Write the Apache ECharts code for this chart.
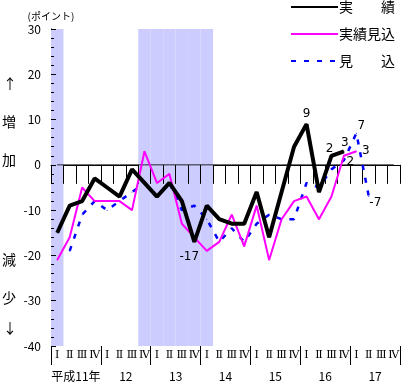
<!DOCTYPE html>
<html>
<head>
<meta charset="utf-8">
<script src="https://cdn.jsdelivr.net/npm/echarts@6/dist/echarts.min.js"></script>
<style>
html,body{margin:0;padding:0;background:#fff;}
#c{width:403px;height:383px;}
</style>
</head>
<body>
<div id="c"></div>
<script>
// ---- data ----
const years = ['平成11年', '12', '13', '14', '15', '16', '17'];
const quarterLabels = ['Ⅰ', 'Ⅱ', 'Ⅲ', 'Ⅳ'];
// recession shading flag per quarter
const recession = [1,0,0,0, 0,0,0,1, 1,1,1,1, 1,0,0,0, 0,0,0,0, 0,0,0,0, 0,0,0,0];
const actual =     [-15,-9,-8,-3, -5,-7,-1,-4, -7,-4,-8,-17, -9,-12,-13,-13, -6,-16,-6,4, 9,-6,2,3];
const actualEst =  [-21,-16,-5,-8, -8,-8,-10,3, -4,-2,-13,-16, -19,-17,-11,-18, -9,-21,-12,-8, -7,-12,-7,2, 3];
const forecast =   [null,-19,-11,-8, -10,-8,-6,-4, -7,-4,-10,-9, -12,-17,-14,-17, -13,-11,-12,-12, -4,-5,-1,1, 7,-7];
const baseline =   [0,0,0,0, 0,0,0,0, 0,0,0,0, 0,0,0,0, 0,0,0,0, 0,0,0,0, 0,0,0,0];
const yTicks = [-40, -30, -20, -10, 0, 10, 20, 30];

// ---- build ----
const categories = [];
years.forEach((y, yi) => quarterLabels.forEach((q) => categories.push(yi + '-' + q)));

const lblFont = { fontFamily: 'DejaVu Sans', fontSize: 12, color: '#000' };
function withLabels(arr, spec) {
  return arr.map((v, i) => {
    if (spec[i] && v !== null) {
      return { value: v, label: Object.assign({ show: true }, lblFont, spec[i]) };
    }
    return v;
  });
}
const minus = (p) => '-' + Math.abs(p.value);
const actualLabels = {
  11: { position: 'bottom', distance: 9, offset: [-5, 0], formatter: minus },
  20: { position: 'top', distance: 4 },
  22: { position: 'top', distance: 0, offset: [-2, 0] },
  23: { position: 'top', distance: 2, offset: [1, 0] }
};
const estLabels = {
  23: { position: 'right', distance: 2, offset: [0, 6] },
  24: { position: 'right', distance: 5 }
};
const fcLabels = {
  24: { position: 'top', distance: 1, offset: [5, 0] },
  25: { position: 'right', distance: 0, offset: [0, 6], formatter: minus }
};

const chart = echarts.init(document.getElementById('c'), null, { renderer: 'canvas' });
const font = 'Noto Sans CJK JP';
function lineSeries(name, arr, spec, color, width, type, z) {
  return {
    name: name,
    type: 'line',
    data: withLabels(arr, spec),
    symbol: 'circle',
    symbolSize: 1,
    showSymbol: true,
    connectNulls: false,
    lineStyle: { color: color, width: width, type: type },
    itemStyle: { color: color },
    emphasis: { disabled: true },
    z: z
  };
}
chart.setOption({
  animation: false,
  backgroundColor: '#fff',
  textStyle: { fontFamily: font },
  grid: { left: 51, right: 3, top: 29, bottom: 37, containLabel: false },
  legend: {
    data: ['実績', '実績見込', '見込'],
    orient: 'vertical',
    right: 3,
    top: -5,
    itemWidth: 47,
    itemHeight: 14,
    itemGap: 13,
    itemStyle: { opacity: 0 },
    formatter: (n) => ({ '実績': '実　　績', '実績見込': '実績見込', '見込': '見　　込' })[n],
    textStyle: { fontFamily: font, fontSize: 14, color: '#000', padding: [0, 0, 0, -4] }
  },
  xAxis: [
    {
      type: 'category',
      data: categories,
      boundaryGap: true,
      position: 'bottom',
      axisLine: { show: true, lineStyle: { color: '#000', width: 1 } },
      axisTick: { show: true, interval: 0, length: 19, lineStyle: { color: '#000' } },
      axisLabel: {
        interval: 0, margin: 4, fontFamily: 'DejaVu Serif', fontSize: 11, color: '#000',
        formatter: (v) => v.split('-')[1]
      },
      splitLine: { show: false }
    },
    {
      type: 'category',
      data: years,
      boundaryGap: true,
      position: 'bottom',
      offset: 19,
      axisLine: { show: false },
      axisTick: { show: true, interval: 0, length: 19, lineStyle: { color: '#000' } },
      axisLabel: { interval: 0, margin: 5, fontFamily: font, fontSize: 12, color: '#000' },
      splitLine: { show: false }
    }
  ],
  yAxis: [
    {
      type: 'value',
      min: yTicks[0],
      max: yTicks[yTicks.length - 1],
      interval: 10,
      name: '(ポイント)',
      nameLocation: 'end',
      nameGap: 8,
      nameTextStyle: { fontFamily: font, fontSize: 10, color: '#000', align: 'center' },
      axisLine: { show: true, lineStyle: { color: '#000', width: 1 } },
      axisTick: { show: true, inside: true, length: 5, lineStyle: { color: '#000' } },
      minorTick: { show: true, splitNumber: 5, length: 3, lineStyle: { color: '#000' } },
      axisLabel: { margin: 10, fontFamily: font, fontSize: 12, color: '#000' },
      splitLine: { show: false }
    },
    { type: 'value', min: 0, max: 1, show: false }
  ],
  series: [
    {
      name: 'recession',
      type: 'bar',
      xAxisIndex: 0,
      yAxisIndex: 1,
      data: recession.map((r) => (r ? 1 : null)),
      barWidth: '100%',
      itemStyle: { color: '#ccccff' },
      silent: true,
      z: 0
    },
    {
      name: 'zero',
      type: 'line',
      data: baseline,
      symbol: 'none',
      lineStyle: { color: '#222', width: 1 },
      silent: true,
      z: 1
    },
    lineSeries('見込', forecast, fcLabels, '#0000ff', 2.5, [5, 8], 3),
    lineSeries('実績見込', actualEst, estLabels, '#ff00ff', 2, 'solid', 4),
    lineSeries('実績', actual, actualLabels, '#000000', 4, 'solid', 5)
  ],
  graphic: [
    { type: 'text', left: 3, top: 77, style: { text: '↑', font: '14px "Noto Sans CJK JP"', fill: '#000' } },
    { type: 'text', left: 2, top: 115, style: { text: '増', font: '14px "Noto Sans CJK JP"', fill: '#000' } },
    { type: 'text', left: 2, top: 153, style: { text: '加', font: '14px "Noto Sans CJK JP"', fill: '#000' } },
    { type: 'text', left: 2, top: 253, style: { text: '減', font: '14px "Noto Sans CJK JP"', fill: '#000' } },
    { type: 'text', left: 2, top: 291, style: { text: '少', font: '14px "Noto Sans CJK JP"', fill: '#000' } },
    { type: 'text', left: 3, top: 321, style: { text: '↓', font: '14px "Noto Sans CJK JP"', fill: '#000' } }
  ]
});
</script>
</body>
</html>
